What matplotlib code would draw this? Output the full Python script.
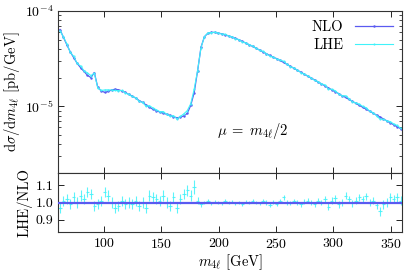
import numpy as np
import matplotlib
matplotlib.use("Agg")
import matplotlib.pyplot as plt
from matplotlib.ticker import FixedLocator, FormatStrFormatter, LogLocator, NullFormatter

plt.rcParams['font.family'] = 'serif'
plt.rcParams['font.serif'] = ['cmr10']
plt.rcParams['mathtext.fontset'] = 'cm'
plt.rcParams['axes.formatter.use_mathtext'] = True
plt.rcParams['axes.unicode_minus'] = False

# bin centres (3 GeV bins from 60 to 360)
bin_lo = 60.0
bin_w = 3.0
n_bins = 100

# NLO differential cross section, units of 1e-5 pb/GeV
nlo = [6.38, 5.31, 4.42, 3.72, 3.24, 2.82, 2.54, 2.32, 2.11, 2.00,
       2.26, 1.58, 1.45, 1.40, 1.43, 1.48, 1.51, 1.49, 1.45, 1.40,
       1.33, 1.28, 1.22, 1.15, 1.10, 1.035, 0.977, 0.933, 0.902, 0.871,
       0.847, 0.826, 0.804, 0.776, 0.759, 0.767, 0.794, 0.841, 1.02, 1.38,
       2.34, 4.17, 5.37, 5.82, 5.96, 5.94, 5.86, 5.75, 5.62, 5.46,
       5.31, 5.16, 4.98, 4.79, 4.60, 4.42, 4.24, 4.06, 3.89, 3.72,
       3.56, 3.41, 3.26, 3.16, 3.02, 2.88, 2.75, 2.62, 2.50, 2.39,
       2.28, 2.17, 2.07, 1.98, 1.89, 1.80, 1.72, 1.64, 1.56, 1.49,
       1.42, 1.36, 1.29, 1.24, 1.18, 1.125, 1.074, 1.023, 0.977, 0.933,
       0.889, 0.849, 0.809, 0.773, 0.738, 0.703, 0.671, 0.640, 0.611, 0.583]

# LHE / NLO ratio per bin
ratio = [0.97, 1.01, 1.02, 0.99, 1.03, 1.00, 1.04, 1.02, 1.06, 1.05,
         0.98, 0.99, 1.01, 1.06, 1.04, 1.00, 0.97, 0.98, 1.01, 0.99,
         1.00, 0.99, 1.01, 0.98, 1.00, 0.97, 1.04, 1.03, 1.02, 1.01,
         1.04, 1.00, 0.98, 1.03, 0.97, 1.02, 1.05, 1.07, 1.04, 1.09,
         1.01, 0.99, 1.00, 1.01, 0.995, 1.005, 1.00, 0.995, 1.01, 1.00,
         1.005, 0.995, 1.00, 0.99, 1.005, 1.00, 1.01, 1.00, 0.995, 1.01,
         1.00, 0.985, 1.005, 0.99, 1.01, 1.03, 1.00, 0.995, 1.01, 1.00,
         0.99, 1.005, 1.01, 1.00, 0.99, 1.01, 1.00, 1.02, 0.975, 1.01,
         1.025, 0.99, 1.00, 1.04, 1.02, 0.995, 1.01, 1.03, 1.02, 1.035,
         1.00, 1.01, 0.985, 0.95, 0.99, 1.00, 1.03, 1.02, 1.03, 1.01]

# statistical error on the ratio
ratio_err = [0.03, 0.03, 0.03, 0.03, 0.03, 0.03, 0.03, 0.03, 0.03, 0.03,
             0.03, 0.03, 0.03, 0.03, 0.03, 0.03, 0.03, 0.03, 0.03, 0.03,
             0.03, 0.03, 0.03, 0.03, 0.03, 0.03, 0.03, 0.03, 0.03, 0.03,
             0.03, 0.03, 0.03, 0.03, 0.03, 0.03, 0.03, 0.03, 0.03, 0.04,
             0.02, 0.015, 0.01, 0.01, 0.01, 0.01, 0.01, 0.01, 0.01, 0.01,
             0.01, 0.01, 0.01, 0.01, 0.01, 0.01, 0.01, 0.01, 0.01, 0.01,
             0.012, 0.012, 0.012, 0.012, 0.012, 0.015, 0.012, 0.012, 0.012, 0.012,
             0.015, 0.015, 0.015, 0.015, 0.015, 0.015, 0.015, 0.015, 0.02, 0.02,
             0.02, 0.02, 0.02, 0.02, 0.02, 0.02, 0.02, 0.02, 0.02, 0.02,
             0.02, 0.02, 0.02, 0.025, 0.025, 0.025, 0.025, 0.025, 0.025, 0.025]

x = bin_lo + bin_w * (np.arange(n_bins) + 0.5)
nlo_v = np.array(nlo) * 1e-5
ratio_v = np.array(ratio)
lhe_v = nlo_v * ratio_v

c_nlo = '#5a5af0'
c_lhe = '#40f2fa'

fig = plt.figure(figsize=(4.07, 2.72), dpi=100)
ax = fig.add_axes([0.143, 0.364, 0.8455, 0.596])
axr = fig.add_axes([0.143, 0.147, 0.8455, 0.217], sharex=ax)

ax.plot(x, nlo_v, color=c_nlo, lw=0.9, marker='.', ms=1.5, label='NLO')
ax.plot(x, lhe_v, color=c_lhe, lw=0.8, marker='.', ms=1.0, label='LHE')
ax.set_yscale('log')
ax.set_ylim(2e-6, 1e-4)
ax.set_xlim(60, 360)
ax.yaxis.set_major_locator(LogLocator(base=10, numticks=10))
ax.yaxis.set_minor_locator(LogLocator(base=10, subs=np.arange(2, 10), numticks=10))
ax.yaxis.set_minor_formatter(NullFormatter())
ax.tick_params(axis='x', labelbottom=False)
ax.set_ylabel(r'$\mathrm{d}\sigma/\mathrm{d}m_{4\ell}$ [pb/GeV]', fontsize=10.5, labelpad=2)
leg = ax.legend(loc='upper right', frameon=False, markerfirst=False, fontsize=10.5,
                handlelength=2.6, borderaxespad=0.25, labelspacing=0.3)
ax.text(0.565, 0.26, r'$\mu\;=\;m_{4\ell}/2$', transform=ax.transAxes,
        ha='center', va='center', fontsize=10.5)

axr.axhline(1.0, color=c_nlo, lw=1.6, zorder=3)
axr.errorbar(x, ratio_v, xerr=bin_w / 2, yerr=ratio_err, fmt='none',
             ecolor=c_lhe, elinewidth=0.8, alpha=0.85, zorder=2)
axr.set_ylim(0.83, 1.17)
axr.yaxis.set_major_locator(FixedLocator([0.9, 1.0, 1.1]))
axr.yaxis.set_major_formatter(FormatStrFormatter('%.1f'))
axr.xaxis.set_major_locator(FixedLocator([100, 150, 200, 250, 300, 350]))
axr.set_ylabel('LHE/NLO', fontsize=10.5, labelpad=2)
axr.set_xlabel(r'$m_{4\ell}$ [GeV]', fontsize=10.5, labelpad=1)

for a in (ax, axr):
    a.tick_params(which='both', direction='in', top=True, right=True, labelsize=10)
    a.tick_params(which='major', length=4, width=0.6)
    a.tick_params(which='minor', length=2, width=0.5)
    for s in a.spines.values():
        s.set_linewidth(0.8)
        s.set_color('#333333')

fig.savefig('out.png', dpi=100)
